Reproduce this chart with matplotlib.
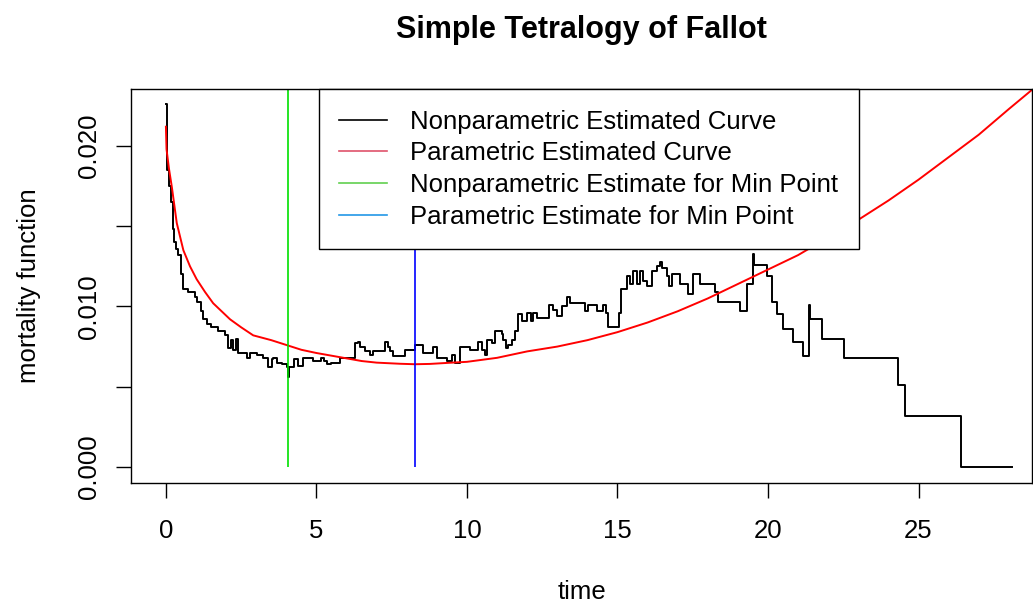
import matplotlib
matplotlib.use('Agg')
import matplotlib.pyplot as plt
from matplotlib.lines import Line2D

plt.rcParams['font.family'] = ['Liberation Sans', 'DejaVu Sans']

# nonparametric estimate (step function, value holds until next time)
np_time = [0.00, 0.02, 0.05, 0.10, 0.17, 0.22, 0.27, 0.35, 0.40, 0.49, 0.56, 0.75, 0.97, 1.02,
           1.15, 1.22, 1.35, 1.51, 1.73, 1.95, 2.06, 2.17, 2.22, 2.33, 2.38, 2.68, 2.79, 3.01,
           3.23, 3.39, 3.51, 3.57, 3.68, 3.84, 4.01, 4.06, 4.10, 4.24, 4.40, 4.56, 4.87, 5.14,
           5.25, 5.36, 5.50, 5.78, 6.28, 6.39, 6.45, 6.61, 6.78, 6.89, 7.28, 7.39, 7.44, 7.55,
           7.94, 8.27, 8.55, 8.88, 8.99, 9.33, 9.49, 9.60, 9.77, 10.10, 10.38, 10.49, 10.60,
           10.67, 10.82, 10.93, 11.15, 11.20, 11.30, 11.37, 11.49, 11.60, 11.70, 11.82, 11.98,
           12.12, 12.20, 12.34, 12.73, 12.87, 12.98, 13.15, 13.31, 13.42, 13.92, 14.03, 14.31,
           14.53, 14.61, 14.67, 15.05, 15.12, 15.31, 15.42, 15.52, 15.64, 15.75, 15.86, 15.97,
           16.14, 16.30, 16.41, 16.47, 16.63, 16.72, 16.80, 17.08, 17.35, 17.52, 17.74, 18.24,
           18.35, 19.07, 19.29, 19.51, 19.53, 19.96, 20.12, 20.29, 20.51, 20.84, 21.17, 21.37,
           21.40, 21.78, 22.54, 24.33, 24.55, 26.40, 28.10]
np_rate = [0.0226, 0.0195, 0.0185, 0.0175, 0.0165, 0.0148, 0.0140, 0.0136, 0.0132, 0.0120, 0.0111,
           0.0109, 0.0106, 0.0103, 0.0097, 0.0092, 0.0089, 0.0087, 0.0085, 0.0082, 0.0074, 0.0079,
           0.0073, 0.0080, 0.0071, 0.0068, 0.0071, 0.0070, 0.0068, 0.0062, 0.0067, 0.0068, 0.0065,
           0.0064, 0.0062, 0.0056, 0.0062, 0.0067, 0.0063, 0.0068, 0.0066, 0.0068, 0.0066, 0.0064,
           0.0065, 0.0068, 0.0077, 0.0078, 0.0075, 0.0072, 0.0070, 0.0072, 0.0078, 0.0075, 0.0072,
           0.0069, 0.0073, 0.0076, 0.0071, 0.0075, 0.0068, 0.0066, 0.0070, 0.0065, 0.0075, 0.0073,
           0.0078, 0.0073, 0.0070, 0.0079, 0.0077, 0.0085, 0.0083, 0.0079, 0.0074, 0.0076, 0.0079,
           0.0085, 0.0095, 0.0091, 0.0096, 0.0091, 0.0096, 0.0093, 0.0101, 0.0098, 0.0094, 0.0100,
           0.0106, 0.0102, 0.0097, 0.0101, 0.0097, 0.0101, 0.0096, 0.0087, 0.0096, 0.0111, 0.0119,
           0.0114, 0.0122, 0.0114, 0.0122, 0.0116, 0.0113, 0.0122, 0.0125, 0.0128, 0.0124, 0.0119,
           0.0113, 0.0120, 0.0114, 0.0108, 0.0120, 0.0114, 0.0109, 0.0103, 0.0097, 0.0114, 0.0133,
           0.0126, 0.0119, 0.0103, 0.0095, 0.0086, 0.0078, 0.0069, 0.0101, 0.0092, 0.0080, 0.0068,
           0.0051, 0.0032, 0.0000, 0.0000]

# parametric estimate
p_time = [0.00, 0.02, 0.10, 0.20, 0.36, 0.58, 0.80, 1.02, 1.30, 1.57, 2.13, 2.50, 2.90, 3.50,
          4.00, 4.50, 5.00, 5.90, 6.50, 7.00, 7.77, 8.27, 8.77, 9.50, 10.0, 11.0, 12.0, 13.0,
          14.0, 15.0, 16.0, 17.0, 18.0, 19.0, 20.0, 21.0, 22.0, 23.0, 24.0, 25.0, 26.0, 27.0,
          28.0, 28.77]
p_rate = [0.0212, 0.0198, 0.0186, 0.0174, 0.0152, 0.0135, 0.0125, 0.0117, 0.0109, 0.0102,
          0.0092, 0.0087, 0.0082, 0.0079, 0.0076, 0.0073, 0.0071, 0.0068, 0.0066, 0.0065,
          0.00643, 0.0064, 0.00642, 0.0065, 0.00655, 0.0068, 0.0072, 0.0075, 0.0079, 0.0084,
          0.0090, 0.0097, 0.0105, 0.0114, 0.0123, 0.0132, 0.0143, 0.0154, 0.0166, 0.0179,
          0.0193, 0.0207, 0.0223, 0.0235]

np_min = 4.05
p_min = 8.27

legend_labels = ['Nonparametric Estimated Curve', 'Parametric Estimated Curve',
                 'Nonparametric Estimate for Min Point', 'Parametric Estimate for Min Point']

fig = plt.figure(figsize=(10.33, 6.05), dpi=100)
ax = fig.add_axes([131/1033, 122/605, 901/1033, 394/605])

ax.step(np_time, np_rate, where='post', color='black', lw=1.4)
ax.plot(p_time, p_rate, color='#FF0000', lw=1.4)
ax.vlines(np_min, 0, 1, color='#00E000', lw=1.2)
ax.vlines(p_min, 0, 1, color='#0000FF', lw=1.2)

ax.set_xlim(-1.16, 28.77)
ax.set_ylim(-0.001, 0.02355)
ax.set_xticks([0, 5, 10, 15, 20, 25])
ax.set_yticks([0.0, 0.005, 0.010, 0.015, 0.020])
ax.set_yticklabels(['0.000', '', '0.010', '', '0.020'], rotation=90, va='center')
ax.tick_params(labelsize=18.5, length=10.8, width=1)
ax.tick_params(axis='x', pad=15)
ax.tick_params(axis='y', pad=11)
for s in ax.spines.values():
    s.set_linewidth(1)

ax.set_title('Simple Tetralogy of Fallot', fontsize=22, fontweight='bold', pad=37)
ax.set_xlabel('time', fontsize=18.5, labelpad=27)
ax.set_ylabel('mortality function', fontsize=18.5, labelpad=26)

handles = [Line2D([], [], color=c, lw=1.2) for c in ['black', '#DF536B', '#61D04F', '#2297E6']]
leg = ax.legend(handles, legend_labels, loc='upper center', bbox_to_anchor=(0.508, 1.0),
                borderaxespad=0, fontsize=18.5, frameon=True, fancybox=False, framealpha=1,
                edgecolor='black', handlelength=1.85, handletextpad=0.9, labelspacing=0.3,
                borderpad=0.8)
leg.get_frame().set_linewidth(1)
leg.set_zorder(5)

fig.savefig('out.png', dpi=100)
